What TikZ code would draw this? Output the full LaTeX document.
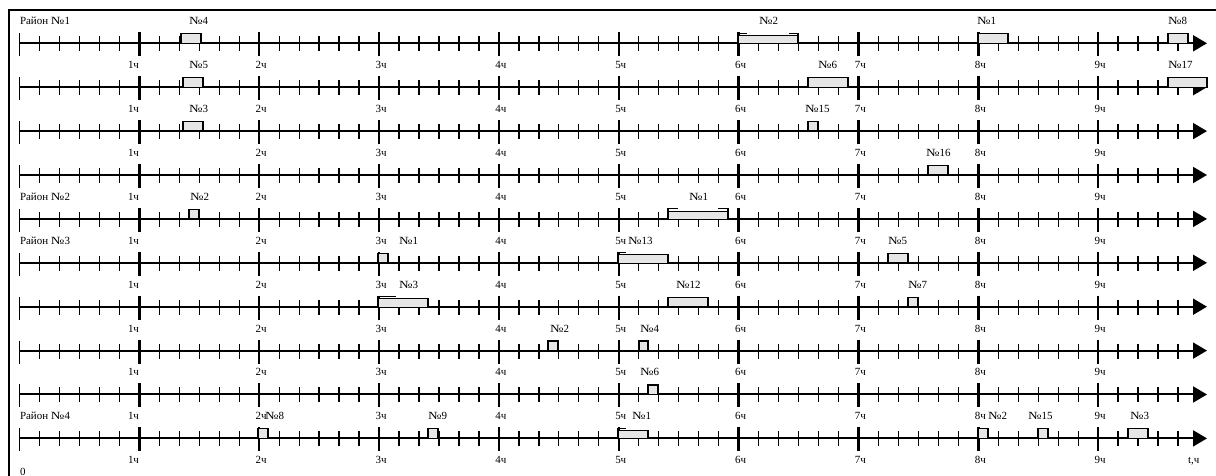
\documentclass[tikz,border=0pt]{standalone}
\usepackage{fontspec}
\setmainfont{Liberation Serif}
\usetikzlibrary{arrows.meta}
\definecolor{barfill}{RGB}{230,230,230}
\newcommand\RowBase{43.3}
\newcommand\RowGap{43.9}
\newcommand\Nsign{\scalebox{1.3}[1]{№}}
% plain bar: row, x1, x2
\newcommand\PlainBar[3]{%
  \pgfmathsetmacro\BarY{\RowBase+\RowGap*(#1-1)}%
  \draw[jobbar] (#2,\BarY) rectangle (#3,\BarY-9.5);}
% bar with brackets on both ends: row, x1, x2, bracket length
\newcommand\BothBar[4]{%
  \pgfmathsetmacro\BarY{\RowBase+\RowGap*(#1-1)}%
  \fill[barfill] (#2,\BarY) rectangle (#3,\BarY-8);
  \draw[line width=0.7bp] (#2,\BarY-8) -- (#3,\BarY-8);
  \draw[bracketline] (#2,\BarY) -- (#2,\BarY-10) -- ++(#4,0);
  \draw[bracketline] (#3,\BarY) -- (#3,\BarY-10) -- ++(-#4,0);}
% bar with bracket on left end: row, x1, x2, bracket length
\newcommand\LeftBar[4]{%
  \pgfmathsetmacro\BarY{\RowBase+\RowGap*(#1-1)}%
  \fill[barfill] (#2,\BarY) rectangle (#3,\BarY-8);
  \draw[bracketline] (#3,\BarY) -- (#3,\BarY-8) -- (#2,\BarY-8);
  \draw[bracketline] (#2,\BarY) -- (#2,\BarY-10) -- ++(#4,0);}
\begin{document}
\begin{tikzpicture}[x=1bp,y=-1bp,
  font=\fontsize{11}{13}\selectfont,
  axisline/.style={line width=2bp},
  minortick/.style={line width=1.3bp},
  majortick/.style={line width=2.4bp},
  zerotick/.style={line width=1.6bp},
  jobbar/.style={fill=barfill,draw=black,line width=1.2bp},
  bracketline/.style={draw=black,line width=1.2bp},
  lbl/.style={anchor=base west,inner sep=0pt,outer sep=0pt},
  lble/.style={anchor=base east,inner sep=0pt,outer sep=0pt}]
\useasboundingbox (0,0) rectangle (1216,476);
% frame
\draw[line width=1.3bp] (1216,10) -- (9,10) -- (9,476);
% axes
\foreach \r in {1,...,10}{
  \pgfmathsetmacro\AY{\RowBase+\RowGap*(\r-1)}
  \draw[axisline,-{Triangle[length=14bp,width=16bp]}] (19.5,\AY) -- (1207,\AY);
  \foreach \k in {1,...,58}{
    \draw[minortick] ({19.5+19.975*\k},\AY-7) -- ({19.5+19.975*\k},\AY+8);
  }
  \foreach \h in {1,...,9}{
    \draw[majortick] ({19.5+119.85*\h},\AY-11) -- ({19.5+119.85*\h},\AY+13);
  }
  \draw[zerotick] (19.5,\AY-10) -- (19.5,\AY+13);
}
% hour labels below every row
\foreach \L in {1,...,10}{
  \pgfmathsetmacro\LY{24.8+43.9*\L}
  \node[lble] (one\L) at (139,\LY) {1ч};
  \foreach \h in {2,...,9}{
    \node[lbl] (hr\L-\h) at ({16+119.85*\h},\LY) {\h ч};
  }
}
% bars
\PlainBar{1}{181}{201}
\BothBar{1}{738}{798}{9}
\PlainBar{1}{978}{1008}
\PlainBar{1}{1168}{1188}
\PlainBar{2}{183}{203}
\PlainBar{2}{808}{848}
\PlainBar{2}{1168}{1207}
\PlainBar{3}{183}{203}
\PlainBar{3}{808}{818}
\PlainBar{4}{928}{948}
\PlainBar{5}{189}{199}
\BothBar{5}{668}{728}{10}
\PlainBar{6}{378}{388}
\LeftBar{6}{618}{668}{8}
\PlainBar{6}{888}{908}
\LeftBar{7}{378}{428}{18}
\PlainBar{7}{668}{708}
\PlainBar{7}{908}{918}
\PlainBar{8}{548}{558}
\PlainBar{8}{639}{648}
\PlainBar{9}{648}{658}
\PlainBar{10}{258}{268}
\PlainBar{10}{428}{438}
\LeftBar{10}{618}{648}{8}
\PlainBar{10}{978}{988}
\PlainBar{10}{1038}{1048}
\PlainBar{10}{1128}{1148}
% labels line 0
\node[lbl] (d1) at (20,24.8) {Район \Nsign 1};
\node[lbl] (a04) at (189,24.8) {\Nsign 4};
\node[lbl] (a02) at (759,24.8) {\Nsign 2};
\node[lbl] (a01) at (977,24.8) {\Nsign 1};
\node[lbl] (a08) at (1168,24.8) {\Nsign 8};
% line 1
\node[lbl] (a15) at (189,68.7) {\Nsign 5};
\node[lbl] (a16) at (818,68.7) {\Nsign 6};
\node[lbl] (a117) at (1168,68.7) {\Nsign 17};
% line 2
\node[lbl] (a23) at (189,112.6) {\Nsign 3};
\node[lbl] (a215) at (805,112.6) {\Nsign 15};
% line 3
\node[lbl] (a316) at (926,156.5) {\Nsign 16};
% line 4
\node[lbl] (d2) at (20,200.4) {Район \Nsign 2};
\node[lbl] (a42) at (190,200.4) {\Nsign 2};
\node[lbl] (a41) at (689,200.4) {\Nsign 1};
% line 5
\node[lbl] (d3) at (20,244.3) {Район \Nsign 3};
\node[lbl] (a51) at (399,244.3) {\Nsign 1};
\node[lbl] (a513) at (628,244.3) {\Nsign 13};
\node[lbl] (a55) at (888,244.3) {\Nsign 5};
% line 6
\node[lbl] (a63) at (399,288.2) {\Nsign 3};
\node[lbl] (a612) at (676,288.2) {\Nsign 12};
\node[lbl] (a67) at (908,288.2) {\Nsign 7};
% line 7
\node[lbl] (a72) at (550,332.1) {\Nsign 2};
\node[lbl] (a74) at (640,332.1) {\Nsign 4};
% line 8
\node[lbl] (a86) at (640,376.0) {\Nsign 6};
% line 9
\node[lbl] (d4) at (20,419.9) {Район \Nsign 4};
\node[lbl] (a98) at (265,419.9) {\Nsign 8};
\node[lbl] (a99) at (428,419.9) {\Nsign 9};
\node[lbl] (a91) at (632,419.9) {\Nsign 1};
\node[lbl] (a92) at (988,419.9) {\Nsign 2};
\node[lbl] (a915) at (1028,419.9) {\Nsign 15};
\node[lbl] (a93) at (1130,419.9) {\Nsign 3};
% line 10
\node[lbl] (tlab) at (1188,463.8) {t,ч};
\node[lbl] (zero) at (20,475.5) {0};
\end{tikzpicture}
\end{document}
